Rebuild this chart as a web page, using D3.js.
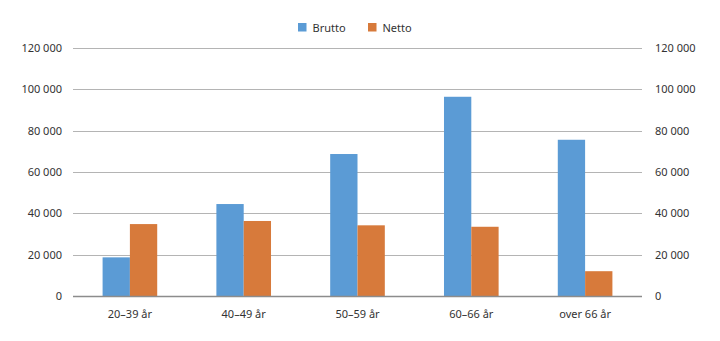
<!DOCTYPE html>
<html>
<head>
<meta charset="utf-8">
<script src="https://cdn.jsdelivr.net/npm/d3@7"></script>
<style>
  body { margin: 0; background: #fff; }
  text { font-family: "Noto Sans", "Open Sans", sans-serif; fill: #333; }
</style>
</head>
<body>
<div id="chart"></div>
<script>
var categories = ["20\u201339 år", "40\u201349 år", "50\u201359 år", "60\u201366 år", "over 66 år"];
var seriesNames = ["Brutto", "Netto"];
var brutto = [18700, 44500, 68700, 96400, 75600];
var netto = [34800, 36300, 34200, 33500, 12000];
var yTicks = [0, 20000, 40000, 60000, 80000, 100000, 120000];

var colors = ["#5b9bd5", "#d77a3b"];

var width = 720, height = 341;
var plot = { left: 73, right: 642, top: 48, bottom: 296 };

var svg = d3.select("#chart")
  .append("svg")
  .attr("width", width)
  .attr("height", height);

var x0 = d3.scaleBand()
  .domain(categories)
  .range([plot.left, plot.right])
  .paddingInner(0.52)
  .paddingOuter(0.26);

var x1 = d3.scaleBand()
  .domain(seriesNames)
  .range([0, x0.bandwidth()]);

var y = d3.scaleLinear()
  .domain([0, 120000])
  .range([plot.bottom, plot.top]);

var fmt = function(d) { return d3.format(",")(d).replace(/,/g, " "); };

// gridlines
svg.append("g")
  .selectAll("line")
  .data(yTicks.filter(function(d) { return d > 0; }))
  .enter()
  .append("line")
  .attr("x1", plot.left)
  .attr("x2", plot.right)
  .attr("y1", function(d) { return Math.round(y(d)) + 0.5; })
  .attr("y2", function(d) { return Math.round(y(d)) + 0.5; })
  .attr("stroke", "#b4b4b4")
  .attr("stroke-width", 1);

// left and right axes, labels only
var yLeft = svg.append("g")
  .attr("transform", "translate(" + (plot.left - 11) + ",0)")
  .call(d3.axisLeft(y).tickValues(yTicks).tickFormat(fmt).tickSize(0).tickPadding(0));
var yRight = svg.append("g")
  .attr("transform", "translate(" + (plot.right + 13) + ",0)")
  .call(d3.axisRight(y).tickValues(yTicks).tickFormat(fmt).tickSize(0).tickPadding(0));
[yLeft, yRight].forEach(function(g) {
  g.select(".domain").remove();
  g.selectAll("text").attr("font-size", 11).attr("fill", "#333");
});

var data = categories.map(function(c, i) {
  return { cat: c, values: [brutto[i], netto[i]] };
});

var groups = svg.selectAll(".group")
  .data(data)
  .enter()
  .append("g")
  .attr("class", "group")
  .attr("transform", function(d) { return "translate(" + x0(d.cat) + ",0)"; });

groups.selectAll("rect")
  .data(function(d) { return d.values.map(function(v, j) { return { key: seriesNames[j], value: v, j: j }; }); })
  .enter()
  .append("rect")
  .attr("x", function(d) { return x1(d.key); })
  .attr("width", x1.bandwidth())
  .attr("y", function(d) { return y(d.value); })
  .attr("height", function(d) { return plot.bottom - y(d.value); })
  .attr("fill", function(d) { return colors[d.j]; });

// zero line
svg.append("line")
  .attr("x1", plot.left)
  .attr("x2", plot.right)
  .attr("y1", plot.bottom + 0.5)
  .attr("y2", plot.bottom + 0.5)
  .attr("stroke", "#8c8c8c")
  .attr("stroke-width", 1.5);

// category labels
var xAxis = svg.append("g")
  .attr("transform", "translate(0," + plot.bottom + ")")
  .call(d3.axisBottom(x0).tickSize(0).tickPadding(14));
xAxis.select(".domain").remove();
xAxis.selectAll("text").attr("font-size", 11).attr("fill", "#333");

// legend
var legend = svg.append("g").attr("transform", "translate(298,23)");
var item = legend.selectAll("g")
  .data(seriesNames)
  .enter()
  .append("g")
  .attr("transform", function(d, i) { return "translate(" + (i * 70) + ",0)"; });
item.append("rect")
  .attr("width", 8.5)
  .attr("height", 8.5)
  .attr("fill", function(d, i) { return colors[i]; });
item.append("text")
  .attr("x", 14.5)
  .attr("y", 8.5)
  .attr("font-size", 11)
  .text(function(d) { return d; });
</script>
</body>
</html>
